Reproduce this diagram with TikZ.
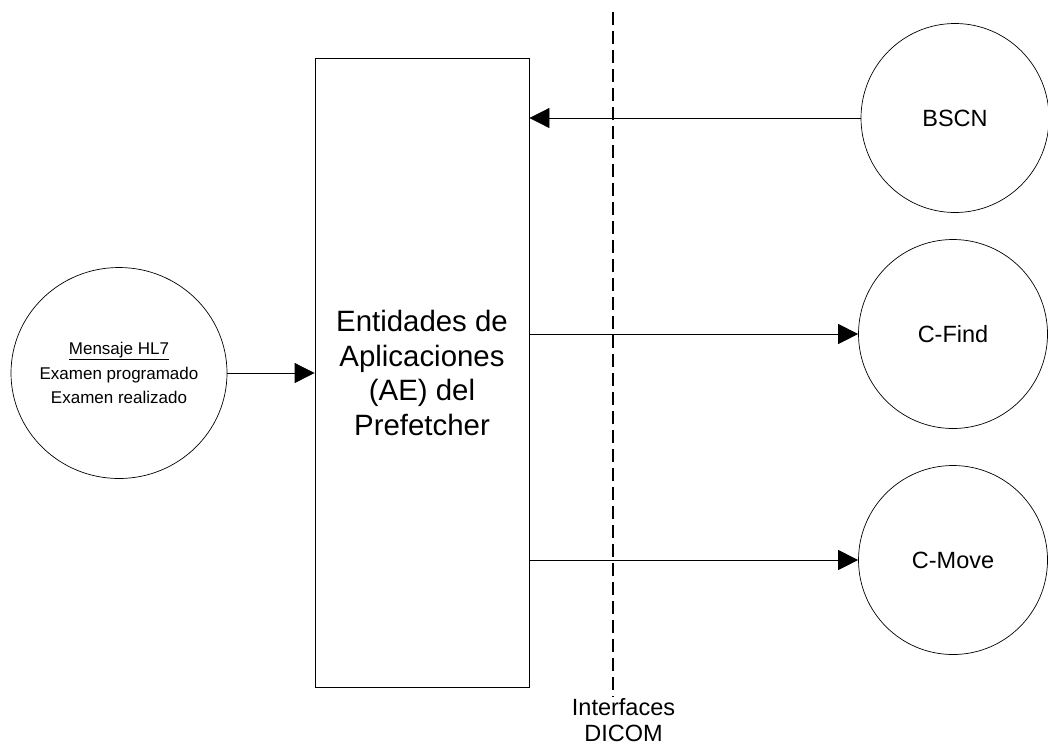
\documentclass[tikz,border=0pt]{standalone}
\usepackage{fontspec}
\setmainfont{Liberation Sans}
\usetikzlibrary{arrows.meta,shapes.geometric}
\tikzset{
 circ/.style={draw,ellipse,line width=0.7pt,inner xsep=-4pt,inner ysep=0pt,align=center},
 conn/.style={line width=0.8pt,-{Triangle[length=20pt,width=20pt]}},
 lbl/.style={inner sep=0pt,align=center}
}
\begin{document}
\begin{tikzpicture}[x=1pt,y=-1pt]
\useasboundingbox (0,0) rectangle (1048,745);
\fill[white] (0,0) rectangle (1048,745);
\node[draw,line width=0.8pt,minimum width=214pt,minimum height=629pt,inner sep=0pt,align=center,font=\fontsize{29.4}{34.5}\selectfont] (ae) at (422,373) {Entidades de\\Aplicaciones\\(AE) del\\Prefetcher};
\node[circ,minimum width=216pt,minimum height=211pt,font=\fontsize{17}{24.5}\selectfont] (hl7) at (119,373) {\underline{Mensaje HL7}\\Examen programado\\Examen realizado};
\node[circ,minimum width=188pt,minimum height=189pt,font=\fontsize{23.5}{28}\selectfont] (bscn) at (955,118) {BSCN};
\node[circ,minimum width=189pt,minimum height=189pt,font=\fontsize{23.5}{28}\selectfont] (find) at (953,334) {C-Find};
\node[circ,minimum width=189pt,minimum height=189pt,font=\fontsize{23.5}{28}\selectfont] (move) at (953,560) {C-Move};
\coordinate (dt) at (613,12);
\coordinate (db) at (613,697);
\draw[line width=1.5pt,dash pattern=on 13pt off 6pt] (dt) -- (db);
\node[lbl,font=\fontsize{23.5}{26}\selectfont] (dicom) at (623.5,720) {Interfaces\\DICOM};
\draw[conn] (hl7.east) -- (ae.west);
\draw[conn] (bscn.west) -- (ae.east |- bscn.west);
\draw[conn] (ae.east |- find.west) -- (find.west);
\draw[conn] (ae.east |- move.west) -- (move.west);
\end{tikzpicture}
\end{document}
